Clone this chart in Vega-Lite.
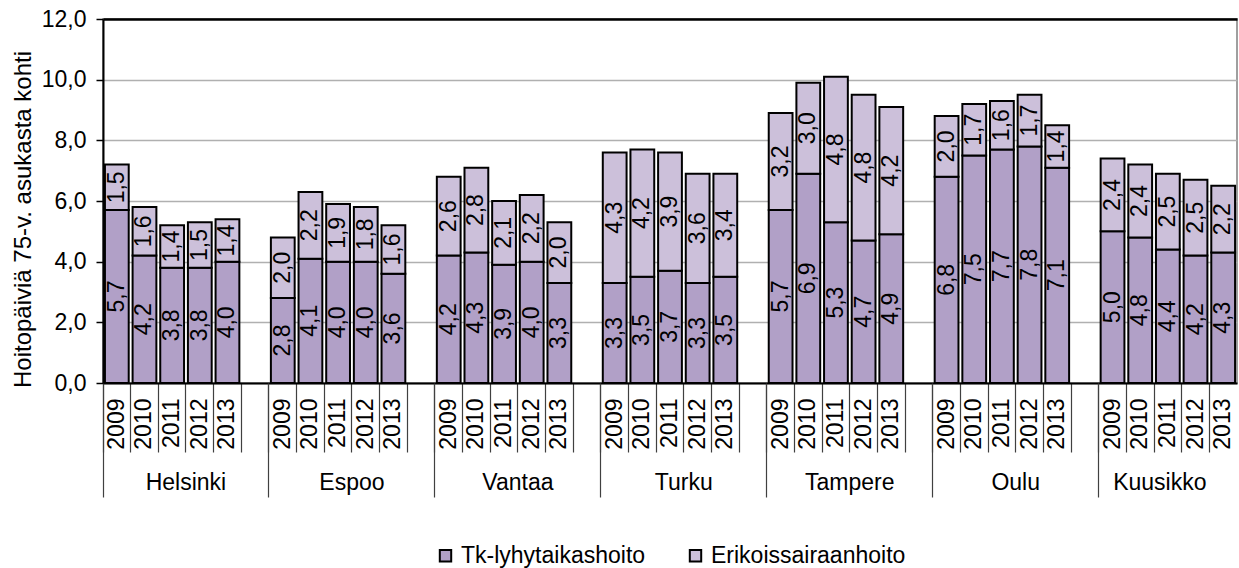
{
  "$schema": "https://vega.github.io/schema/vega-lite/v6.json",
  "width": 1134,
  "height": 364,
  "autosize": "none",
  "padding": {"left": 103, "top": 19, "right": 2, "bottom": 185},
  "config": {
    "font": "Liberation Sans",
    "locale": {"number": {"decimal": ",", "thousands": "\u00a0", "grouping": [3], "currency": ["", "\u00a0€"]}},
    "view": {"stroke": "#808080", "strokeWidth": 1.5}
  },
  "data": {
    "values": [
      {"k": "Helsinki 2009", "s": "Tk-lyhytaikashoito", "v": 5.7}, {"k": "Helsinki 2009", "s": "Erikoissairaanhoito", "v": 1.5},
      {"k": "Helsinki 2010", "s": "Tk-lyhytaikashoito", "v": 4.2}, {"k": "Helsinki 2010", "s": "Erikoissairaanhoito", "v": 1.6},
      {"k": "Helsinki 2011", "s": "Tk-lyhytaikashoito", "v": 3.8}, {"k": "Helsinki 2011", "s": "Erikoissairaanhoito", "v": 1.4},
      {"k": "Helsinki 2012", "s": "Tk-lyhytaikashoito", "v": 3.8}, {"k": "Helsinki 2012", "s": "Erikoissairaanhoito", "v": 1.5},
      {"k": "Helsinki 2013", "s": "Tk-lyhytaikashoito", "v": 4.0}, {"k": "Helsinki 2013", "s": "Erikoissairaanhoito", "v": 1.4},
      {"k": "Espoo 2009", "s": "Tk-lyhytaikashoito", "v": 2.8}, {"k": "Espoo 2009", "s": "Erikoissairaanhoito", "v": 2.0},
      {"k": "Espoo 2010", "s": "Tk-lyhytaikashoito", "v": 4.1}, {"k": "Espoo 2010", "s": "Erikoissairaanhoito", "v": 2.2},
      {"k": "Espoo 2011", "s": "Tk-lyhytaikashoito", "v": 4.0}, {"k": "Espoo 2011", "s": "Erikoissairaanhoito", "v": 1.9},
      {"k": "Espoo 2012", "s": "Tk-lyhytaikashoito", "v": 4.0}, {"k": "Espoo 2012", "s": "Erikoissairaanhoito", "v": 1.8},
      {"k": "Espoo 2013", "s": "Tk-lyhytaikashoito", "v": 3.6}, {"k": "Espoo 2013", "s": "Erikoissairaanhoito", "v": 1.6},
      {"k": "Vantaa 2009", "s": "Tk-lyhytaikashoito", "v": 4.2}, {"k": "Vantaa 2009", "s": "Erikoissairaanhoito", "v": 2.6},
      {"k": "Vantaa 2010", "s": "Tk-lyhytaikashoito", "v": 4.3}, {"k": "Vantaa 2010", "s": "Erikoissairaanhoito", "v": 2.8},
      {"k": "Vantaa 2011", "s": "Tk-lyhytaikashoito", "v": 3.9}, {"k": "Vantaa 2011", "s": "Erikoissairaanhoito", "v": 2.1},
      {"k": "Vantaa 2012", "s": "Tk-lyhytaikashoito", "v": 4.0}, {"k": "Vantaa 2012", "s": "Erikoissairaanhoito", "v": 2.2},
      {"k": "Vantaa 2013", "s": "Tk-lyhytaikashoito", "v": 3.3}, {"k": "Vantaa 2013", "s": "Erikoissairaanhoito", "v": 2.0},
      {"k": "Turku 2009", "s": "Tk-lyhytaikashoito", "v": 3.3}, {"k": "Turku 2009", "s": "Erikoissairaanhoito", "v": 4.3},
      {"k": "Turku 2010", "s": "Tk-lyhytaikashoito", "v": 3.5}, {"k": "Turku 2010", "s": "Erikoissairaanhoito", "v": 4.2},
      {"k": "Turku 2011", "s": "Tk-lyhytaikashoito", "v": 3.7}, {"k": "Turku 2011", "s": "Erikoissairaanhoito", "v": 3.9},
      {"k": "Turku 2012", "s": "Tk-lyhytaikashoito", "v": 3.3}, {"k": "Turku 2012", "s": "Erikoissairaanhoito", "v": 3.6},
      {"k": "Turku 2013", "s": "Tk-lyhytaikashoito", "v": 3.5}, {"k": "Turku 2013", "s": "Erikoissairaanhoito", "v": 3.4},
      {"k": "Tampere 2009", "s": "Tk-lyhytaikashoito", "v": 5.7}, {"k": "Tampere 2009", "s": "Erikoissairaanhoito", "v": 3.2},
      {"k": "Tampere 2010", "s": "Tk-lyhytaikashoito", "v": 6.9}, {"k": "Tampere 2010", "s": "Erikoissairaanhoito", "v": 3.0},
      {"k": "Tampere 2011", "s": "Tk-lyhytaikashoito", "v": 5.3}, {"k": "Tampere 2011", "s": "Erikoissairaanhoito", "v": 4.8},
      {"k": "Tampere 2012", "s": "Tk-lyhytaikashoito", "v": 4.7}, {"k": "Tampere 2012", "s": "Erikoissairaanhoito", "v": 4.8},
      {"k": "Tampere 2013", "s": "Tk-lyhytaikashoito", "v": 4.9}, {"k": "Tampere 2013", "s": "Erikoissairaanhoito", "v": 4.2},
      {"k": "Oulu 2009", "s": "Tk-lyhytaikashoito", "v": 6.8}, {"k": "Oulu 2009", "s": "Erikoissairaanhoito", "v": 2.0},
      {"k": "Oulu 2010", "s": "Tk-lyhytaikashoito", "v": 7.5}, {"k": "Oulu 2010", "s": "Erikoissairaanhoito", "v": 1.7},
      {"k": "Oulu 2011", "s": "Tk-lyhytaikashoito", "v": 7.7}, {"k": "Oulu 2011", "s": "Erikoissairaanhoito", "v": 1.6},
      {"k": "Oulu 2012", "s": "Tk-lyhytaikashoito", "v": 7.8}, {"k": "Oulu 2012", "s": "Erikoissairaanhoito", "v": 1.7},
      {"k": "Oulu 2013", "s": "Tk-lyhytaikashoito", "v": 7.1}, {"k": "Oulu 2013", "s": "Erikoissairaanhoito", "v": 1.4},
      {"k": "Kuusikko 2009", "s": "Tk-lyhytaikashoito", "v": 5.0}, {"k": "Kuusikko 2009", "s": "Erikoissairaanhoito", "v": 2.4},
      {"k": "Kuusikko 2010", "s": "Tk-lyhytaikashoito", "v": 4.8}, {"k": "Kuusikko 2010", "s": "Erikoissairaanhoito", "v": 2.4},
      {"k": "Kuusikko 2011", "s": "Tk-lyhytaikashoito", "v": 4.4}, {"k": "Kuusikko 2011", "s": "Erikoissairaanhoito", "v": 2.5},
      {"k": "Kuusikko 2012", "s": "Tk-lyhytaikashoito", "v": 4.2}, {"k": "Kuusikko 2012", "s": "Erikoissairaanhoito", "v": 2.5},
      {"k": "Kuusikko 2013", "s": "Tk-lyhytaikashoito", "v": 4.3}, {"k": "Kuusikko 2013", "s": "Erikoissairaanhoito", "v": 2.2}
    ]
  },
  "transform": [
    {"stack": "v", "groupby": ["k"], "sort": [{"field": "s", "order": "descending"}], "as": ["v0", "v1"]},
    {"calculate": "(datum.v0 + datum.v1) / 2", "as": "m"}
  ],
  "resolve": {"axis": {"x": "independent"}},
  "layer": [
    {
      "mark": {"type": "bar", "stroke": "black", "strokeWidth": 2, "width": {"band": 0.86}},
      "encoding": {
        "x": {
          "field": "k", "type": "nominal", "sort": null,
          "scale": {
            "type": "band", "paddingInner": 0, "paddingOuter": 0,
            "domain": [
              "Helsinki 2009", "Helsinki 2010", "Helsinki 2011", "Helsinki 2012", "Helsinki 2013", "Helsinki gap",
              "Espoo 2009", "Espoo 2010", "Espoo 2011", "Espoo 2012", "Espoo 2013", "Espoo gap",
              "Vantaa 2009", "Vantaa 2010", "Vantaa 2011", "Vantaa 2012", "Vantaa 2013", "Vantaa gap",
              "Turku 2009", "Turku 2010", "Turku 2011", "Turku 2012", "Turku 2013", "Turku gap",
              "Tampere 2009", "Tampere 2010", "Tampere 2011", "Tampere 2012", "Tampere 2013", "Tampere gap",
              "Oulu 2009", "Oulu 2010", "Oulu 2011", "Oulu 2012", "Oulu 2013", "Oulu gap",
              "Kuusikko 2009", "Kuusikko 2010", "Kuusikko 2011", "Kuusikko 2012", "Kuusikko 2013"
            ]
          },
          "axis": {
            "orient": "bottom", "title": null, "grid": false,
            "bandPosition": 0, "labelOffset": 0,
            "tickSize": 69, "tickColor": "#404040", "tickWidth": 1.2,
            "domainColor": "black", "domainWidth": 2,
            "labelAngle": -90, "labelAlign": "right", "labelBaseline": "middle",
            "labelPadding": -54, "labelFontSize": 23, "labelColor": "black",
            "labelOverlap": false, "labelBound": false, "labelFlush": false,
            "labelExpr": "indexof(datum.value, 'gap') >= 0 ? '' : split(datum.value, ' ')[1]"
          }
        },
        "y": {
          "field": "v0", "type": "quantitative",
          "scale": {"domain": [0, 12], "nice": false},
          "axis": {
            "title": "Hoitopäiviä 75-v. asukasta kohti",
            "titleFontSize": 24, "titleFontWeight": "normal", "titleColor": "black", "titlePadding": 6,
            "titleY": 200,
            "values": [0, 2, 4, 6, 8, 10, 12], "format": ".1f",
            "labelFontSize": 23, "labelColor": "black", "labelPadding": 10,
            "tickSize": 7, "tickColor": "black", "tickWidth": 1.5,
            "domainColor": "black", "domainWidth": 2,
            "grid": true,
            "gridColor": {"condition": {"test": "datum.value == 12", "value": "black"}, "value": "#b0b0b0"},
            "gridWidth": {"condition": {"test": "datum.value == 12", "value": 2.5}, "value": 1.5}
          }
        },
        "y2": {"field": "v1"},
        "color": {
          "field": "s", "type": "nominal",
          "scale": {"domain": ["Tk-lyhytaikashoito", "Erikoissairaanhoito"], "range": ["#b1a0c7", "#ccc0da"]},
          "legend": {
            "title": null, "orient": "none", "legendX": 331, "legendY": 525,
            "direction": "horizontal", "padding": 0,
            "symbolType": "square", "symbolSize": 130, "symbolStrokeColor": "black", "symbolStrokeWidth": 2,
            "labelFontSize": 23, "labelColor": "black", "labelOffset": 4, "columnPadding": 38, "labelLimit": 400
          }
        }
      }
    },
    {
      "mark": {"type": "text", "angle": 270, "align": "center", "baseline": "middle", "fontSize": 23, "color": "black"},
      "encoding": {
        "x": {"field": "k", "type": "nominal", "sort": null, "axis": null},
        "y": {"field": "m", "type": "quantitative"},
        "text": {"field": "v", "type": "quantitative", "format": ".1f"}
      }
    },
    {
      "mark": {"type": "rule", "opacity": 0},
      "encoding": {
        "x": {
          "field": "k", "type": "nominal", "sort": null,
          "axis": {
            "orient": "bottom", "title": null, "grid": false, "domain": false, "labels": false,
            "bandPosition": 0, "tickSize": 114, "tickColor": "#404040", "tickWidth": 1.2,
            "values": ["Helsinki 2009", "Espoo 2009", "Vantaa 2009", "Turku 2009", "Tampere 2009", "Oulu 2009", "Kuusikko 2009"]
          }
        }
      }
    },
    {
      "mark": {"type": "rule", "opacity": 0},
      "encoding": {
        "x": {
          "field": "k", "type": "nominal", "sort": null,
          "axis": {
            "orient": "bottom", "title": null, "grid": false, "domain": false, "ticks": false,
            "labelAngle": 0, "labelAlign": "center", "labelBaseline": "alphabetic",
            "labelPadding": 106, "labelFontSize": 23, "labelColor": "black",
            "labelOverlap": false, "labelBound": false, "labelFlush": false,
            "labelOffset": {"condition": {"test": "datum.value == 'Kuusikko 2011'", "value": -8}, "value": -13.83},
            "labelExpr": "split(datum.value, ' ')[0]",
            "values": ["Helsinki 2012", "Espoo 2012", "Vantaa 2012", "Turku 2012", "Tampere 2012", "Oulu 2012", "Kuusikko 2011"]
          }
        }
      }
    }
  ]
}
